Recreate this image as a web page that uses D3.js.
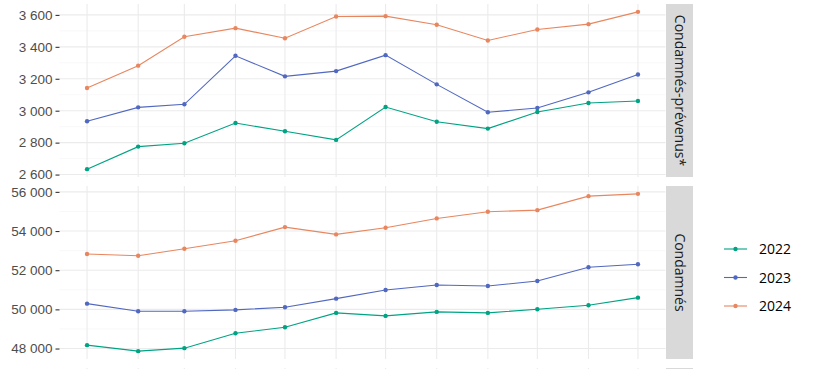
<!DOCTYPE html>
<html>
<head>
<meta charset="utf-8">
<script src="https://cdn.jsdelivr.net/npm/d3@7"></script>
<style>
  body { margin: 0; background: #fff; }
  svg { display: block; font-family: "Open Sans", "Noto Sans", sans-serif; }
</style>
</head>
<body>
<svg id="chart" width="818" height="369"></svg>
<script>
// months (x axis, placed on a common non-leap calendar)
const months = ['01', '02', '03', '04', '05', '06', '07', '08', '09', '10', '11', '12']
const years = ['2022', '2023', '2024']
const colors = ['#00a383', '#5168c0', '#e8875f']

// facet 1 : Condamnés-prévenus*
const prevenus2022 = [2634, 2775, 2796, 2923, 2871, 2817, 3023, 2931, 2888, 2992, 3048, 3061]
const prevenus2023 = [2934, 3021, 3040, 3344, 3215, 3248, 3348, 3165, 2990, 3017, 3115, 3227]
const prevenus2024 = [3142, 3282, 3463, 3517, 3454, 3590, 3592, 3538, 3440, 3509, 3542, 3619]

// facet 2 : Condamnés
const condamnes2022 = [48172, 47867, 48019, 48784, 49090, 49819, 49666, 49870, 49819, 50007, 50211, 50598]
const condamnes2023 = [50293, 49905, 49905, 49972, 50109, 50547, 50991, 51245, 51195, 51449, 52147, 52300]
const condamnes2024 = [52825, 52739, 53095, 53503, 54201, 53829, 54166, 54644, 54981, 55067, 55781, 55898]

const prevenusTicks = [2600, 2800, 3000, 3200, 3400, 3600]
const condamnesTicks = [48000, 50000, 52000, 54000, 56000]

const facets = [
  { label: 'Condamnés-prévenus*', series: [prevenus2022, prevenus2023, prevenus2024], ticks: prevenusTicks, step: 100 },
  { label: 'Condamnés', series: [condamnes2022, condamnes2023, condamnes2024], ticks: condamnesTicks, step: 1000 }
]

const svg = d3.select('#chart')
const panelLeft = 59.5
const panelRight = 665.5
const panelH = 173
const panelGap = 9
const panelTop0 = 4
const stripW = 27

const dates = months.map(m => new Date(2022, +m - 1, 1))
const x = d3.scaleTime()
  .domain(d3.extent(dates))
const span = panelRight - panelLeft
x.range([panelLeft + span * 0.05 / 1.1, panelRight - span * 0.05 / 1.1])

const fmt = v => d3.format(',')(v).replace(/,/g, ' ')

function drawPanel (facet, top) {
  const g = svg.append('g')
  const all = facet.series.flat()
  const lo = d3.min(all)
  const hi = d3.max(all)
  const pad = (hi - lo) * 0.05
  const y = d3.scaleLinear()
    .domain([lo - pad, hi + pad])
    .range([top + panelH, top])

  // minor gridlines
  const minor = d3.range(Math.ceil((lo - pad) / facet.step) * facet.step, hi + pad, facet.step)
    .filter(v => !facet.ticks.includes(v))
  g.selectAll('.minor').data(minor).enter().append('line')
    .attr('x1', panelLeft).attr('x2', panelRight)
    .attr('y1', d => y(d)).attr('y2', d => y(d))
    .attr('stroke', '#f3f3f3').attr('stroke-width', 0.6)

  // major gridlines
  g.selectAll('.hmajor').data(facet.ticks).enter().append('line')
    .attr('x1', panelLeft).attr('x2', panelRight)
    .attr('y1', d => y(d)).attr('y2', d => y(d))
    .attr('stroke', '#ebebeb').attr('stroke-width', 1.1)
  g.selectAll('.vmajor').data(dates).enter().append('line')
    .attr('x1', d => x(d)).attr('x2', d => x(d))
    .attr('y1', top).attr('y2', top + panelH)
    .attr('stroke', '#ebebeb').attr('stroke-width', 1.1)

  // y axis
  const axis = g.append('g')
    .attr('transform', `translate(${panelLeft},0)`)
    .call(d3.axisLeft(y).tickValues(facet.ticks).tickFormat(fmt).tickSize(4).tickPadding(3))
  axis.select('.domain').remove()
  axis.selectAll('.tick line').attr('stroke', '#333333').attr('stroke-width', 1.1)
  axis.selectAll('.tick text').attr('fill', '#4d4d4d').style('font-size', '13.5px')

  // lines + points
  const line = d3.line().x((d, i) => x(dates[i])).y(d => y(d))
  facet.series.forEach((vals, s) => {
    g.append('path')
      .attr('d', line(vals))
      .attr('fill', 'none')
      .attr('stroke', colors[s])
      .attr('stroke-width', 1.1)
    g.selectAll('.pt' + s).data(vals).enter().append('circle')
      .attr('cx', (d, i) => x(dates[i]))
      .attr('cy', d => y(d))
      .attr('r', 2.2)
      .attr('fill', colors[s])
  })

  // strip
  g.append('rect')
    .attr('x', panelRight + 0.5).attr('y', top)
    .attr('width', stripW).attr('height', panelH)
    .attr('fill', '#d9d9d9')
  g.append('text')
    .attr('transform', `translate(${panelRight + 0.5 + stripW / 2},${top + panelH / 2}) rotate(90)`)
    .attr('text-anchor', 'middle')
    .attr('dy', '0.35em')
    .attr('fill', '#1a1a1a')
    .style('font-size', '14px')
    .text(facet.label)
}

facets.forEach((f, i) => drawPanel(f, panelTop0 + i * (panelH + panelGap)))

// third facet, cut off by the frame
const top3 = panelTop0 + 2 * (panelH + panelGap)
svg.selectAll('.v3').data(dates).enter().append('line')
  .attr('x1', d => x(d)).attr('x2', d => x(d))
  .attr('y1', top3).attr('y2', top3 + 20)
  .attr('stroke', '#ebebeb').attr('stroke-width', 1.1)
svg.append('rect')
  .attr('x', panelRight + 0.5).attr('y', top3)
  .attr('width', stripW).attr('height', 20)
  .attr('fill', '#d9d9d9')

// legend
const legend = svg.append('g')
years.forEach((yr, i) => {
  const cy = 249 + i * 28.5
  legend.append('line')
    .attr('x1', 724).attr('x2', 747)
    .attr('y1', cy).attr('y2', cy)
    .attr('stroke', colors[i]).attr('stroke-width', 1.1)
  legend.append('circle')
    .attr('cx', 735.5).attr('cy', cy).attr('r', 2.2)
    .attr('fill', colors[i])
  legend.append('text')
    .attr('x', 759).attr('y', cy)
    .attr('dy', '0.36em')
    .attr('fill', '#000')
    .style('font-size', '14px')
    .text(yr)
})
</script>
</body>
</html>
